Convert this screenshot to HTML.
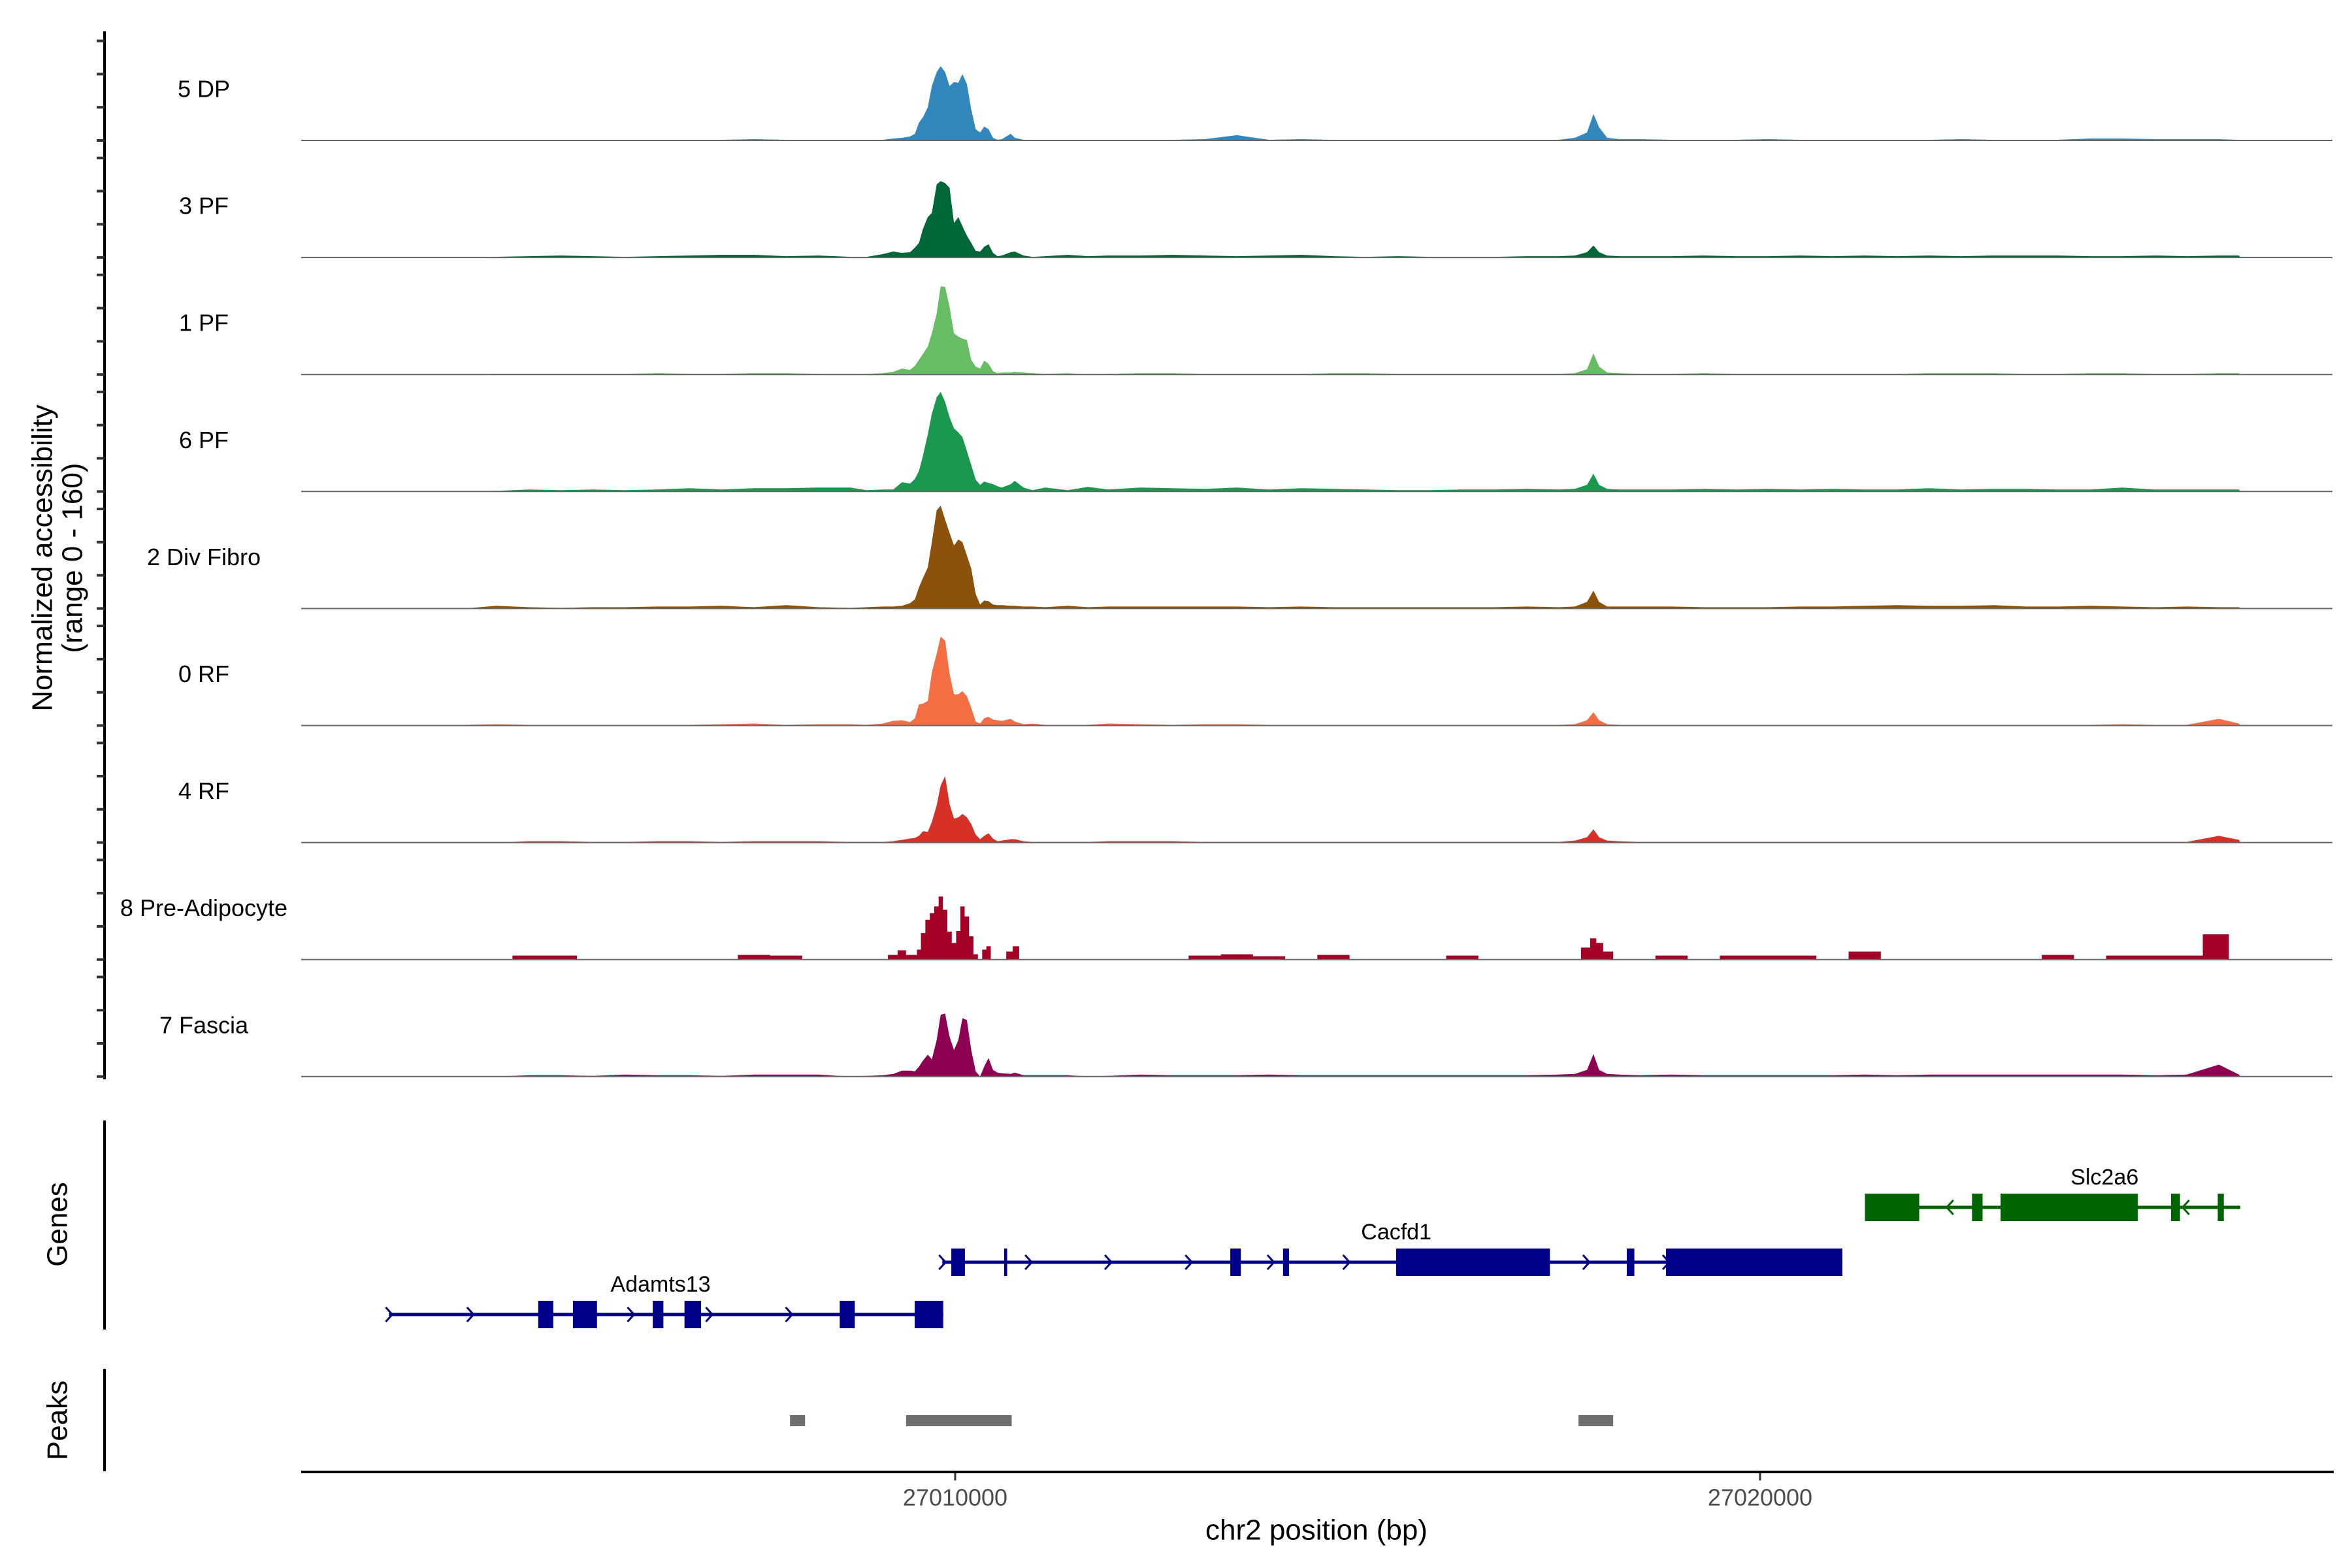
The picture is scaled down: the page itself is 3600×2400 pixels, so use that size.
<!DOCTYPE html>
<html><head><meta charset="utf-8"><style>
html,body{margin:0;padding:0;background:#fff;}
svg{display:block;font-family:"Liberation Sans",sans-serif;}
</style></head><body>
<svg id="chart" width="3600" height="2400" viewBox="0 0 3600 2400" xmlns="http://www.w3.org/2000/svg">
<rect width="3600" height="2400" fill="#fff"/>
<g id="tracks"></g>
<g id="yaxis"></g>
<text x="65" y="854" transform="rotate(-90 65 854)" text-anchor="middle" dominant-baseline="central" font-size="44" fill="#000">Normalized accessibility</text>
<text x="111" y="854" transform="rotate(-90 111 854)" text-anchor="middle" dominant-baseline="central" font-size="44" fill="#000">(range 0 - 160)</text>
<g id="genes"></g>
<line x1="160" y1="1715" x2="160" y2="2035" stroke="#000" stroke-width="4"/>
<text x="88" y="1874" transform="rotate(-90 88 1874)" text-anchor="middle" dominant-baseline="central" font-size="44">Genes</text>
<g id="peaks"></g>
<line x1="160" y1="2095" x2="160" y2="2252" stroke="#000" stroke-width="4"/>
<text x="88" y="2174" transform="rotate(-90 88 2174)" text-anchor="middle" dominant-baseline="central" font-size="44">Peaks</text>
<line x1="461" y1="2253" x2="3572" y2="2253" stroke="#000" stroke-width="4"/>
<g id="xaxis"></g>
<text x="2015" y="2342" text-anchor="middle" dominant-baseline="central" font-size="44">chr2 position (bp)</text>
</svg>
<script>
const regionBase = 27010000;
const regionStartOff = -8125;
const regionEndOff = 15966;
const xTicks = [27010000, 27020000];
const xTickLabels = ["27010000", "27020000"];
const yTicks = [0, 50, 100, 150];
const trackNames = ["5 DP","3 PF","1 PF","6 PF","2 Div Fibro","0 RF","4 RF","8 Pre-Adipocyte","7 Fascia"];
const trackColors = ["#3288bd","#006837","#66bd63","#1a9850","#8c510a","#f46d43","#d73027","#a50026","#8e0152"];
const trackStepped = [false,false,false,false,false,false,false,true,false];
const binOffsets = [-8100,-7700,-7300,-6900,-6500,-6100,-5700,-5300,-4900,-4500,-4100,-3700,-3300,-2900,-2500,-2100,-1700,
-1300,-1100,-900,-770,-660,-560,-500,-450,-400,-340,-290,-230,-180,-125,-70,-15,40,90,145,200,255,310,360,415,470,525,580,690,740,850,960,1120,1400,1650,1900,
2300,2700,3100,3500,3900,4300,4700,5100,5500,5900,6300,6700,7100,7500,7700,7850,7930,8000,8100,8250,8500,
8900,9300,9700,10100,10500,10900,11300,11700,12100,12500,12900,13300,13700,14100,14500,14900,15300,15700,15950];
const dp5 = [0,0,0,0,0,0,0,1,1,0,0,0,0,1,2,1,1,
0,1,1,3,4,6,10,27,35,50,82,103,112,103,82,88,87,100,85,47,17,12,21,17,4,1,2,10,4,1,1,1,1,1,1,
1,1,2,8,1,2,1,0,1,0,1,0,1,1,4,12,40,20,4,2,2,1,1,1,2,1,1,1,1,1,2,1,1,1,3,3,2,2,2,1];
const pf3 = [0,0,0,0,0,0,1,2,3,2,1,2,3,4,4,2,3,
1,1,5,9,7,8,15,22,43,61,67,110,115,112,105,52,61,47,33,22,10,9,16,20,7,2,3,8,9,3,1,2,4,2,3,
3,4,3,2,3,4,2,1,2,1,1,1,2,2,3,8,18,8,3,2,2,2,3,2,2,3,2,3,2,3,2,3,3,3,2,2,3,2,3,3];
const pf1 = [0,0,0,0,0,0,1,1,1,1,1,2,1,1,2,2,1,
0,1,2,4,9,7,13,22,31,42,62,92,133,132,102,62,57,54,52,22,12,9,21,16,5,2,3,3,4,3,2,1,2,0,1,
2,2,1,1,1,1,2,2,1,1,1,1,1,1,2,8,32,12,3,2,1,1,2,1,1,1,1,1,1,2,2,2,1,1,2,2,1,1,2,2];
const pf6 = [0,0,0,0,0,0,1,3,2,3,2,3,5,3,5,5,6,
6,2,3,3,14,12,19,31,54,86,117,142,150,135,112,95,89,82,61,40,18,10,15,13,11,8,6,11,16,6,2,6,2,7,3,
6,5,4,6,3,5,4,3,2,2,3,3,4,3,4,10,27,10,4,3,3,3,4,3,4,3,4,3,3,5,3,4,4,3,3,6,3,3,3,3];
const divFibro2 = [0,0,0,0,0,0,4,2,1,2,2,3,3,4,2,5,2,
1,2,3,3,4,8,14,32,46,62,100,148,155,134,114,95,104,100,80,60,22,6,12,11,6,5,5,4,4,3,3,2,4,2,3,
3,3,3,3,2,3,2,2,2,2,2,2,3,2,3,10,27,10,3,3,3,3,2,2,2,3,3,4,5,4,4,5,3,3,4,3,2,3,2,2];
const rf0 = [0,0,0,0,0,1,2,1,1,1,1,1,1,2,3,1,2,
2,1,3,7,8,5,11,32,33,37,80,108,134,128,78,47,47,52,44,27,6,3,11,13,9,8,7,10,6,2,3,1,1,1,3,
2,1,2,2,1,1,1,1,1,1,1,1,1,1,2,8,20,8,2,1,1,1,1,1,1,1,1,1,1,1,1,1,1,1,1,2,1,1,10,3];
const rf4 = [0,0,0,0,0,0,0,2,2,1,1,2,2,1,2,2,2,
1,1,1,2,4,6,7,10,17,16,31,56,86,100,58,36,38,43,38,28,12,5,10,14,6,2,3,5,5,2,1,1,1,1,2,
2,2,1,1,1,1,1,1,1,1,1,1,1,1,3,8,20,8,3,2,1,1,1,1,1,1,1,1,1,1,1,1,1,1,1,1,1,1,10,4];
const preAdipo8 = [0,0,0,0,0,0,0,6,6,0,0,0,0,0,7,6,0,
0,0,0,7,14,7,7,15,40,60,70,80,95,75,42,25,43,80,65,35,8,0,15,20,0,0,0,12,20,0,0,0,0,0,0,
0,0,6,8,5,0,7,0,0,0,6,0,0,0,0,18,32,25,12,0,0,6,0,6,6,6,0,12,0,0,0,0,0,7,0,6,6,6,38,0];
const fascia7 = [0,0,0,0,0,0,0,2,2,1,3,2,2,1,3,3,3,
0,1,2,4,9,9,8,15,24,33,26,55,93,95,60,40,55,88,85,40,8,0,15,28,10,6,5,4,6,2,2,2,2,0,1,
3,2,2,2,3,2,2,2,2,2,2,2,2,3,4,10,34,10,4,3,2,3,2,2,2,2,2,3,2,3,3,3,3,3,3,3,2,3,18,3];
const trackValues = [dp5, pf3, pf1, pf6, divFibro2, rf0, rf4, preAdipo8, fascia7];
const geneNames = ["Adamts13","Cacfd1","Slc2a6"];
const geneStrands = ["+","+","-"];
const geneSpans = [[-7034,-148],[-160,11022],[11303,15967]];
const geneExons = [
 [[-5180,-4993],[-4749,-4450],[-3757,-3625],[-3363,-3157],[-1434,-1247],[-503,-148]],
 [[-48,121],[608,646],[3418,3549],[4073,4148],[5478,7389],[8344,8438],[8831,11022]],
 [[11303,11977],[12633,12764],[12988,14693],[15105,15217],[15686,15761]]];
const geneArrows = [[-7034,-6024,-4030,-3057,-2065],[-160,910,1900,2900,3920,4860,7840,8831],[12360,15290]];
const geneLabelPos = [-3660,5480,14280];
const peakRanges = [[-2052,-1865],[-610,702],[7744,8175]];

const NS = "http://www.w3.org/2000/svg";
const pxPerBp = 0.1232, x0 = 1462;
function xScale(off){ return x0 + off*pxPerBp; }
function baseline(i){ return 215 + i*179.1; }
function yScale(i, v){ return baseline(i) - v*1.016; }
function mk(tag, attrs, parent){ const e=document.createElementNS(NS,tag); for(const k in attrs) e.setAttribute(k,attrs[k]); parent.appendChild(e); return e; }

const tracksG = document.getElementById('tracks');
trackValues.forEach((vals, i) => {
  const b = baseline(i);
  let d = "M" + xScale(regionStartOff) + "," + b;
  if (trackStepped[i]) {
    for (let j=0;j<binOffsets.length;j++){
      const l = j===0 ? regionStartOff : (binOffsets[j-1]+binOffsets[j])/2;
      const r = j===binOffsets.length-1 ? regionEndOff : (binOffsets[j]+binOffsets[j+1])/2;
      const y = yScale(i, vals[j]);
      d += " L" + xScale(l).toFixed(1) + "," + y.toFixed(1) + " L" + xScale(r).toFixed(1) + "," + y.toFixed(1);
    }
  } else {
    for (let j=0;j<binOffsets.length;j++){
      d += " L" + xScale(binOffsets[j]).toFixed(1) + "," + yScale(i, vals[j]).toFixed(1);
    }
  }
  d += " L" + xScale(regionEndOff) + "," + b + " Z";
  const p = mk('path', {d:d, fill:trackColors[i]}, tracksG);
  
  
  const ln = mk('line', {x1:461, x2:3570, y1:b, y2:b, stroke:'#666', 'stroke-width':2}, tracksG);
  
  
  const t = mk('text', {x:312, y:b-79, 'text-anchor':'middle', 'dominant-baseline':'central', 'font-size':36, fill:'#000'}, tracksG);
  t.textContent = trackNames[i];
  
  
});

const yaxisG = document.getElementById('yaxis');
const ax = mk('line', {x1:160, x2:160, y1:48, y2:1652, stroke:'#000', 'stroke-width':4}, yaxisG);


trackValues.forEach((v, i) => {
  yTicks.forEach(tv => {
    const y = yScale(i, tv);
    const tk = mk('line', {x1:148, x2:160, y1:y, y2:y, stroke:'#333', 'stroke-width':4}, yaxisG);
    
    
  });
});

const genesG = document.getElementById('genes');
const rowY = [2012, 1932, 1848];
const geneColor = ["#00008b","#00008b","#006400"];
geneNames.forEach((g, gi) => {
  const y = rowY[gi], c = geneColor[gi];
  const grp = mk('g', {}, genesG);
  
  
  mk('line', {x1:xScale(geneSpans[gi][0]), x2:xScale(geneSpans[gi][1]), y1:y, y2:y, stroke:c, 'stroke-width':5}, grp);
  geneExons[gi].forEach(e => {
    const r = mk('rect', {x:xScale(e[0]), y:y-21, width:Math.max(4, xScale(e[1])-xScale(e[0])), height:42, fill:c}, grp);
    
    
  });
  geneArrows[gi].forEach(a => {
    const x = xScale(a), dir = geneStrands[gi]==="+" ? 1 : -1;
    mk('path', {d:"M"+(x-5*dir)+","+(y-11)+" L"+(x+5*dir)+","+y+" L"+(x-5*dir)+","+(y+11), fill:'none', stroke:c, 'stroke-width':3}, grp);
  });
  const t = mk('text', {x:xScale(geneLabelPos[gi]), y:y-46, 'text-anchor':'middle', 'dominant-baseline':'central', 'font-size':34, fill:'#000'}, grp);
  t.textContent = g;
  
  
});

const peaksG = document.getElementById('peaks');
peakRanges.forEach(pr => {
  const r = mk('rect', {x:xScale(pr[0]), y:2166, width:xScale(pr[1])-xScale(pr[0]), height:17, fill:'#6e6e6e'}, peaksG);
  
  
});

const xaxisG = document.getElementById('xaxis');
xTicks.forEach((t, i) => {
  const x = xScale(t - regionBase);
  const tk = mk('line', {x1:x, x2:x, y1:2255, y2:2266, stroke:'#333', 'stroke-width':3}, xaxisG);
  
  
  const lb = mk('text', {x:x, y:2292, 'text-anchor':'middle', 'dominant-baseline':'central', 'font-size':36, fill:'#4d4d4d'}, xaxisG);
  lb.textContent = xTickLabels[i];
  
  
});
</script>
</body></html>
